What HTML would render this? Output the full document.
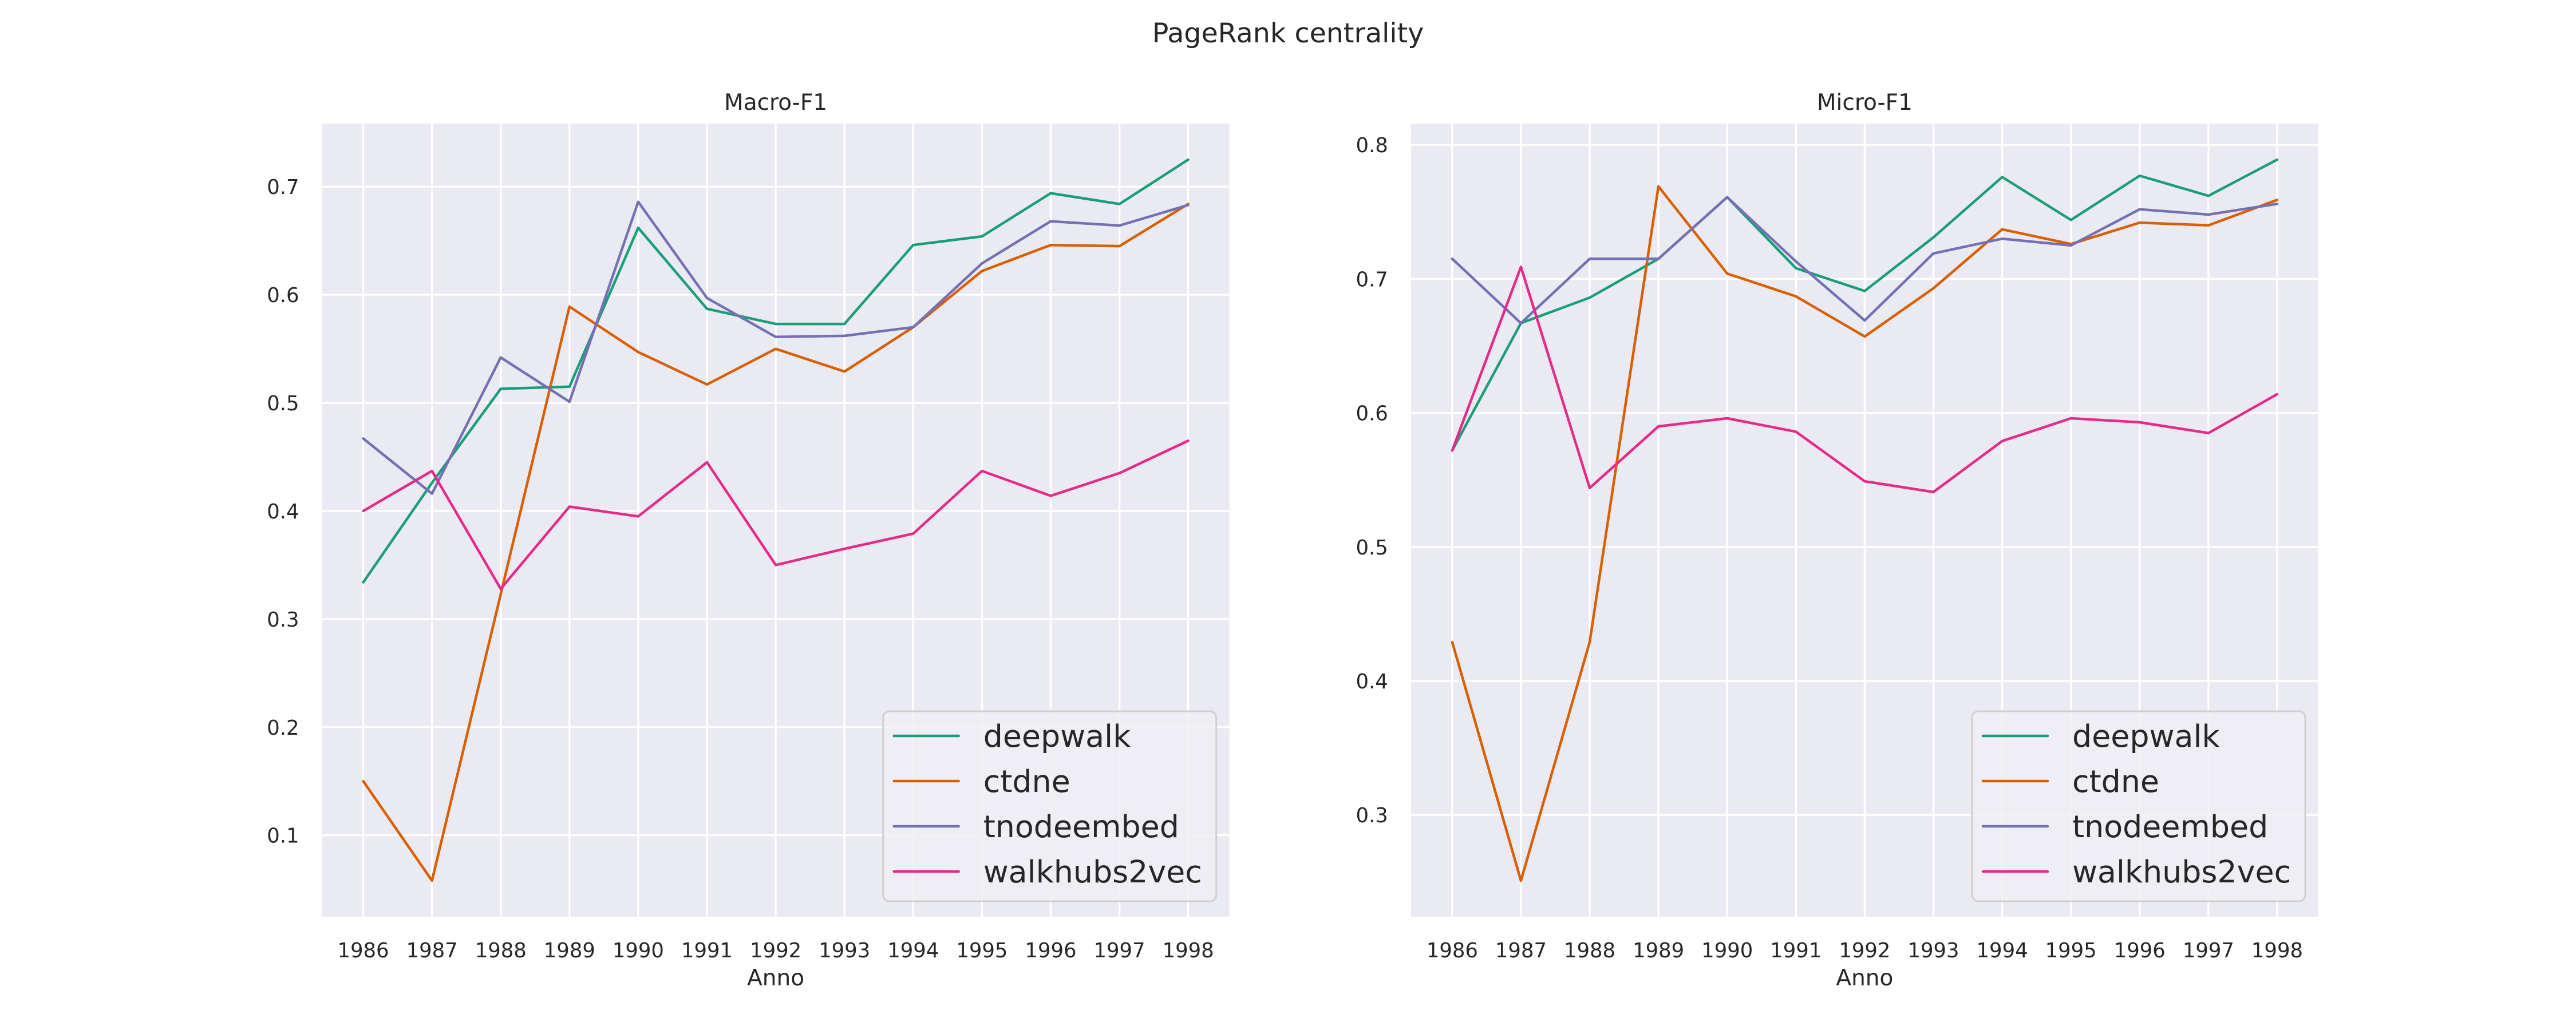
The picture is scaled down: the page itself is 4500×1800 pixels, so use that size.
<!DOCTYPE html>
<html><head><meta charset="utf-8"><style>
html,body{margin:0;padding:0;background:#fff;}
svg{display:block;font-family:"DejaVu Sans","Liberation Sans",sans-serif;}
</style></head><body>
<svg id="fig" width="4500" height="1800" viewBox="0 0 4500 1800" xmlns="http://www.w3.org/2000/svg">
<rect width="4500" height="1800" fill="#fff"/>
<text x="2250" y="74" font-size="47.5" fill="#262626" text-anchor="middle">PageRank centrality</text>
</svg>
<script>
const years = [1986,1987,1988,1989,1990,1991,1992,1993,1994,1995,1996,1997,1998];
const seriesNames = ["deepwalk","ctdne","tnodeembed","walkhubs2vec"];
const macroDeepwalk = [0.334,0.426,0.513,0.515,0.662,0.587,0.573,0.573,0.646,0.654,0.694,0.684,0.725];
const macroCtdne = [0.150,0.058,0.323,0.589,0.547,0.517,0.550,0.529,0.570,0.622,0.646,0.645,0.684];
const macroTnode = [0.467,0.416,0.542,0.501,0.686,0.597,0.561,0.562,0.570,0.629,0.668,0.664,0.683];
const macroWalkhubs = [0.400,0.437,0.328,0.404,0.395,0.445,0.350,0.365,0.379,0.437,0.414,0.435,0.465];
const microDeepwalk = [0.572,0.667,0.686,0.715,0.761,0.708,0.691,0.731,0.776,0.744,0.777,0.762,0.789];
const microCtdne = [0.429,0.251,0.429,0.769,0.704,0.687,0.657,0.693,0.737,0.726,0.742,0.740,0.759];
const microTnode = [0.715,0.667,0.715,0.715,0.761,0.713,0.669,0.719,0.730,0.725,0.752,0.748,0.756];
const microWalkhubs = [0.572,0.709,0.544,0.590,0.596,0.586,0.549,0.541,0.579,0.596,0.593,0.585,0.614];
const macroTicks = [0.1,0.2,0.3,0.4,0.5,0.6,0.7];
const microTicks = [0.3,0.4,0.5,0.6,0.7,0.8];
const colors = ["#1b9e77","#d95f02","#7570b3","#e7298a"];

const NS = "http://www.w3.org/2000/svg";
const svg = document.getElementById("fig");
function el(tag, attrs, parent){
  const e = document.createElementNS(NS, tag);
  for (const k in attrs) e.setAttribute(k, attrs[k]);
  (parent||svg).appendChild(e);
  return e;
}
function extent(arrs){
  let mn=Infinity,mx=-Infinity;
  arrs.forEach(a=>a.forEach(v=>{mn=Math.min(mn,v);mx=Math.max(mx,v);}));
  const m=(mx-mn)*0.05; return [mn-m,mx+m];
}
function panel(key, title, left, series, ticks){
  const top=216, bottom=1602, width=1585.2, right=left+width;
  const g = el("g",{});
  
  
  const [y0,y1] = extent(series);
  const xs = i => left + (i+0.6)/13.2*width;
  const ys = v => bottom - (v-y0)/(y1-y0)*(bottom-top);
  const bg = el("rect",{x:left,y:top,width:width,height:bottom-top,fill:"#eaeaf2"},g);
  
  
  ticks.forEach(t=>{
    const gl = el("line",{x1:left,x2:right,y1:ys(t),y2:ys(t),stroke:"#fff","stroke-width":3.3},g);
    
    
    const tl = el("text",{x:left-40,y:ys(t)+13,"font-size":35.4,fill:"#262626","text-anchor":"end"},g);
    
    
    tl.textContent = t.toFixed(1);
  });
  years.forEach((yr,i)=>{
    const gl = el("line",{x1:xs(i),x2:xs(i),y1:top,y2:bottom,stroke:"#fff","stroke-width":3.3},g);
    
    
    const tl = el("text",{x:xs(i),y:1673,"font-size":35.4,fill:"#262626","text-anchor":"middle"},g);
    
    
    tl.textContent = yr;
  });
  series.forEach((s,k)=>{
    const p = el("polyline",{points:s.map((v,i)=>xs(i).toFixed(1)+","+ys(v).toFixed(1)).join(" "),fill:"none",stroke:colors[k],"stroke-width":4.5,"stroke-linejoin":"round","stroke-linecap":"round"},g);
    
    
  });
  const tt = el("text",{x:left+width/2,y:192,"font-size":39,fill:"#262626","text-anchor":"middle"},g);
  
  
  tt.textContent = title;
  const xl = el("text",{x:left+width/2,y:1722,"font-size":39,fill:"#262626","text-anchor":"middle"},g);
  
  
  xl.textContent = "Anno";
  // legend
  const lg = el("g",{},g);
  
  
  const lx = right-23-582, ly = 1243;
  el("rect",{x:lx,y:ly,width:582,height:332,rx:11,ry:11,fill:"#eeeef5","fill-opacity":0.85,stroke:"#d0d0d0","stroke-width":3},lg);
  seriesNames.forEach((n,k)=>{
    const cy = ly+43+k*79;
    const ent = el("g",{},lg);
    
    
    el("line",{x1:lx+19,x2:lx+132,y1:cy,y2:cy,stroke:colors[k],"stroke-width":4.5,"stroke-linecap":"round"},ent);
    const t = el("text",{x:lx+175,y:cy+19,"font-size":53.8,fill:"#262626"},ent);
    t.textContent = n;
  });
}
panel("macro","Macro-F1",562.5,[macroDeepwalk,macroCtdne,macroTnode,macroWalkhubs],macroTicks);
panel("micro","Micro-F1",2464.8,[microDeepwalk,microCtdne,microTnode,microWalkhubs],microTicks);
</script>
</body></html>
